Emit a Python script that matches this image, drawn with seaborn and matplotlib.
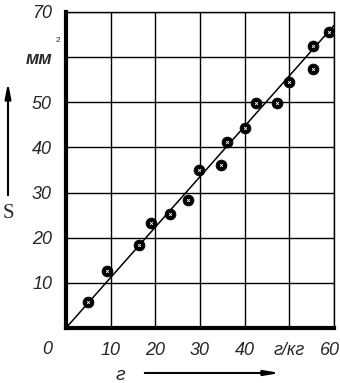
import numpy as np
import seaborn as sns
import matplotlib.transforms as mtransforms
from matplotlib import pyplot as plt

# measured points (x in g/kg, S in mm^2)
conc = [5.0, 9.2, 16.4, 19.1, 23.2, 27.4, 29.8, 34.7, 36.0, 40.0, 42.6, 47.2, 50.0, 55.4, 55.4, 58.9]
area = [5.7, 12.6, 18.3, 23.3, 25.2, 28.3, 35.0, 36.1, 41.2, 44.2, 49.8, 49.8, 54.5, 57.3, 62.4, 65.5]

# fitted line
fit_x = [0, 60]
fit_y = [0, 67]

x_ticks = [10, 20, 30, 40, 50, 60]
x_labels = ['10', '20', '30', '40', 'г/кг', '60']
y_ticks = [10, 20, 30, 40, 50, 60, 70]
y_labels = ['10', '20', '30', '40', '50', 'мм', '70']

sns.set_style('white')
plt.rcParams['font.family'] = ['Liberation Sans', 'DejaVu Sans']

fig = plt.figure(figsize=(3.4, 3.83), dpi=100)
ax = fig.add_axes([0.194, 0.1436, 0.788, 0.8251])

sns.lineplot(x=fit_x, y=fit_y, color='black', lw=1.1, ax=ax)
sns.scatterplot(x=conc, y=area, color='black', s=60, marker='o', edgecolor='black', ax=ax, zorder=3)
sns.scatterplot(x=conc, y=area, color='white', s=4, marker='x', linewidth=0.6, ax=ax, zorder=4)

ax.set_xlim(0, 60)
ax.set_ylim(0, 70)
ax.set_xticks(x_ticks)
ax.set_xticklabels(x_labels)
ax.set_yticks(y_ticks)
ax.set_yticklabels(y_labels)
ax.tick_params(length=0, labelsize=13, pad=10)
for lab in ax.get_xticklabels() + ax.get_yticklabels():
    lab.set_style('italic')
ax.get_yticklabels()[5].set_fontweight('bold')
ax.get_yticklabels()[5].set_fontsize(13)
# last x label sits a bit inside the right edge
last = ax.get_xticklabels()[-1]
last.set_transform(last.get_transform() + mtransforms.ScaledTranslation(-0.04, 0, fig.dpi_scale_trans))

ax.grid(True, color='black', lw=1.0)
ax.set_axisbelow(True)
for side in ['left', 'bottom']:
    ax.spines[side].set_linewidth(3)
    ax.spines[side].set_color('black')
for side in ['top', 'right']:
    ax.spines[side].set_linewidth(1)
    ax.spines[side].set_color('black')

# origin label and superscript
fig.text(47, 33, '0', fontsize=13, style='italic', ha='center', va='center',
         transform=None)
fig.text(58, 342, '2', fontsize=6, ha='center', va='center', transform=None)

# axis symbols with arrows
fig.text(8, 170, 'S', fontsize=15, family='Liberation Serif', ha='center', va='center',
         transform=None)
ax.annotate('', xy=(8, 303), xytext=(8, 185), xycoords='figure pixels',
            arrowprops=dict(arrowstyle='-|>,head_length=0.9,head_width=0.18', color='black', lw=1.5))
fig.text(120, 8, 'г', fontsize=14, style='italic', ha='center', va='center', transform=None)
ax.annotate('', xy=(283, 10), xytext=(142, 10), xycoords='figure pixels',
            arrowprops=dict(arrowstyle='-|>,head_length=0.9,head_width=0.15', color='black', lw=1.5))

plt.savefig('out.png', dpi=100)
plt.close()
